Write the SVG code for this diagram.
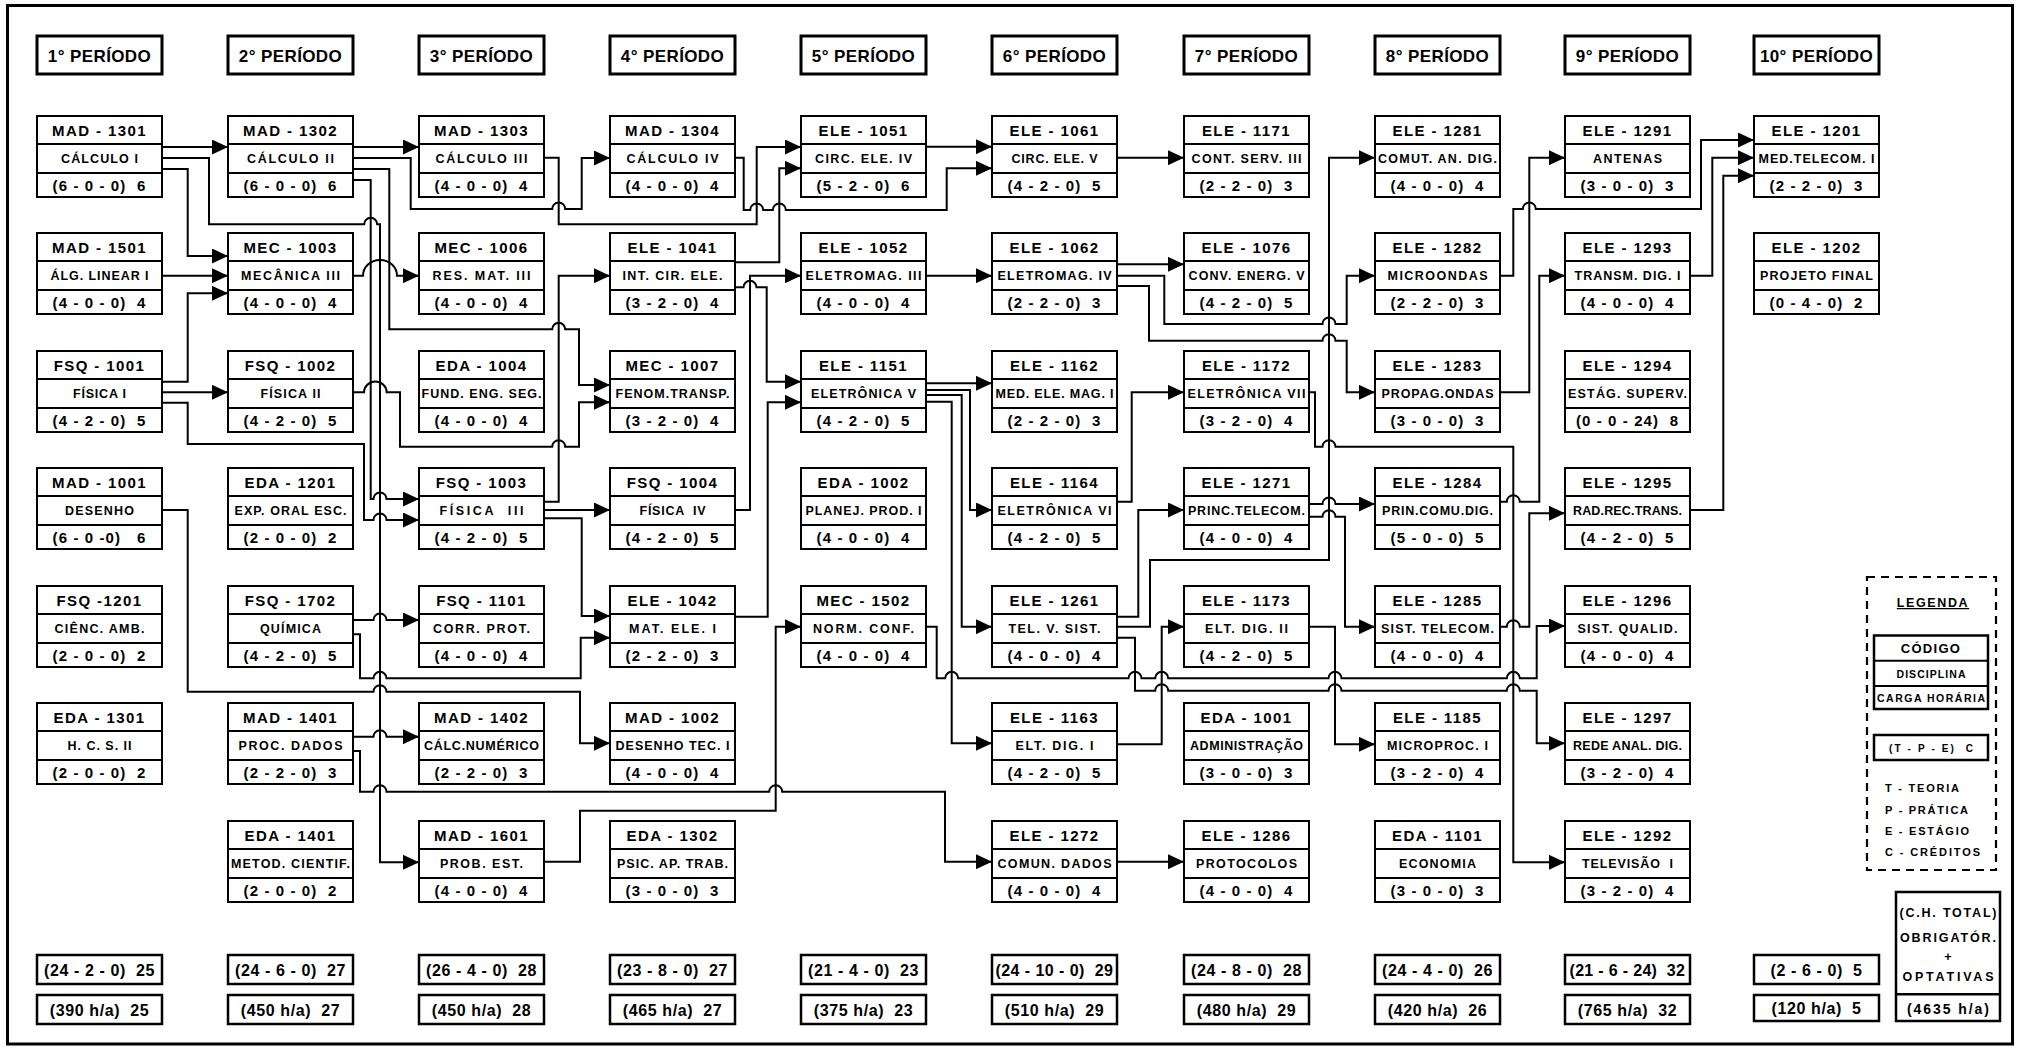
<svg xmlns="http://www.w3.org/2000/svg" xmlns:xlink="http://www.w3.org/1999/xlink" width="2022" height="1048" viewBox="0 0 2022 1048">
<style>
text{font-family:"Liberation Sans",Arial,sans-serif;font-weight:700;fill:#000;text-anchor:middle;white-space:pre}
.c{font-size:15px;letter-spacing:1.4px}
.d{font-size:12.5px}
.h{font-size:15px;letter-spacing:1.1px}
.p{font-size:17px;letter-spacing:0.4px}
.t{font-size:16px;letter-spacing:0.6px}
.hb{fill:#fff;stroke:#000;stroke-width:3}
.tb{fill:#fff;stroke:#000;stroke-width:2.5}
#conn path{fill:none;stroke:#000;stroke-width:2;marker-end:url(#ah)}
.lg{font-size:11px;text-anchor:start}
</style>
<defs>
<marker id="ah" markerUnits="userSpaceOnUse" markerWidth="16" markerHeight="15" refX="16" refY="7.5" orient="auto"><path d="M0,0 L16,7.5 L0,15 Z" fill="#000"/></marker>
<g id="nb"><rect x="0" y="0" width="125" height="81" fill="#fff" stroke="#000" stroke-width="2"/><line x1="0" y1="28" x2="125" y2="28" stroke="#000" stroke-width="2"/><line x1="0" y1="57" x2="125" y2="57" stroke="#000" stroke-width="2"/></g>
</defs>
<rect width="2022" height="1048" fill="#fff"/>
<rect x="7.5" y="5.5" width="2005" height="1038.5" fill="none" stroke="#000" stroke-width="3"/>

<g id="headers">
<g id="p1"><rect class="hb" x="37" y="36" width="125" height="38"/><text class="p" x="99.5" y="61.5">1° PERÍODO</text></g>
<g id="p2"><rect class="hb" x="228" y="36" width="125" height="38"/><text class="p" x="290.5" y="61.5">2° PERÍODO</text></g>
<g id="p3"><rect class="hb" x="419" y="36" width="125" height="38"/><text class="p" x="481.5" y="61.5">3° PERÍODO</text></g>
<g id="p4"><rect class="hb" x="610" y="36" width="125" height="38"/><text class="p" x="672.5" y="61.5">4° PERÍODO</text></g>
<g id="p5"><rect class="hb" x="801" y="36" width="125" height="38"/><text class="p" x="863.5" y="61.5">5° PERÍODO</text></g>
<g id="p6"><rect class="hb" x="992" y="36" width="125" height="38"/><text class="p" x="1054.5" y="61.5">6° PERÍODO</text></g>
<g id="p7"><rect class="hb" x="1184" y="36" width="125" height="38"/><text class="p" x="1246.5" y="61.5">7° PERÍODO</text></g>
<g id="p8"><rect class="hb" x="1375" y="36" width="125" height="38"/><text class="p" x="1437.5" y="61.5">8° PERÍODO</text></g>
<g id="p9"><rect class="hb" x="1565" y="36" width="125" height="38"/><text class="p" x="1627.5" y="61.5">9° PERÍODO</text></g>
<g id="p10"><rect class="hb" x="1754" y="36" width="125" height="38"/><text class="p" x="1816.5" y="61.5">10° PERÍODO</text></g>
</g>

<g id="conn">
<path d="M162,147 H228"/>
<path d="M162,158 H209 V224.3 H364.2 a6.5,6.5 0 0 1 13,0 H380 V862.3 H419"/>
<path d="M162,169 H187.7 V256 H228"/>
<path d="M162,275.7 H228"/>
<path d="M162,381.7 H187.7 V293.3 H228"/>
<path d="M162,392.3 H228"/>
<path d="M162,402.7 H187.7 V444 H364 V520 H373.5 a6.5,6.5 0 0 1 13,0 H419"/>
<path d="M353,147 H419"/>
<path d="M353,158 H410.7 V209 H552.2 a6.5,6.5 0 0 1 13,0 H581.7 V158 H610"/>
<path d="M353,169 H389.3 V329.3 H552.2 a6.5,6.5 0 0 1 13,0 H579 V385 H610"/>
<path d="M353,180 H370.7 V499 H373.5 a6.5,6.5 0 0 1 13,0 H419"/>
<path d="M353,275.7 H363 A17,15.7 0 0 1 397,275.7 H419"/>
<path d="M353,392.3 H364 A11.3,10.7 0 0 1 386.7,392.3 H400 V446.7 H552.2 a6.5,6.5 0 0 1 13,0 H579 V402.3 H610"/>
<path d="M162,510 H187.7 V691.7 H373.5 a6.5,6.5 0 0 1 13,0 H580 V743.3 H610"/>
<path d="M353,620 H373.5 a6.5,6.5 0 0 1 13,0 H419"/>
<path d="M353,634.3 H360 V678.3 H373.5 a6.5,6.5 0 0 1 13,0 H580.7 V637.7 H610"/>
<path d="M353,736.7 H373.5 a6.5,6.5 0 0 1 13,0 H419"/>
<path d="M353,751 H360 V791.7 H373.5 a6.5,6.5 0 0 1 13,0 H769.2 a6.5,6.5 0 0 1 13,0 H945 V861.7 H992"/>
<path d="M544,157.7 H558.7 V224.3 H756.7 V147 H801"/>
<path d="M735,157.7 H743.7 V210 H750.2 a6.5,6.5 0 0 1 13,0 H772.8 a6.5,6.5 0 0 1 13,0 H946.7 V168.3 H992"/>
<path d="M735,262.3 H779.3 V168.3 H801"/>
<path d="M735,287.3 H743.5 a6.5,6.5 0 0 1 13,0 H766.7 V381.7 H801"/>
<path d="M544,501.7 H558.7 V275.7 H610"/>
<path d="M544,510 H610"/>
<path d="M544,518.3 H581.7 V616 H610"/>
<path d="M735,510 H750 V275.7 H801"/>
<path d="M735,616.7 H767.7 V402.3 H801"/>
<path d="M544,861.7 H580 V810.7 H775.7 V626.7 H801"/>
<path d="M926,146.7 H992"/>
<path d="M926,275.7 H992"/>
<path d="M926,383.3 H992"/>
<path d="M926,390 H970 V510 H992"/>
<path d="M926,395 H961.7 V626.7 H992"/>
<path d="M926,401.7 H951.7 V743.3 H992"/>
<path d="M926,626.7 H936.7 V678.3 H945.2 a6.5,6.5 0 0 1 13,0 H1128.5 a6.5,6.5 0 0 1 13,0 H1155.2 a6.5,6.5 0 0 1 13,0 H1328.5 a6.5,6.5 0 0 1 13,0 H1506.8 a6.5,6.5 0 0 1 13,0 H1536.7 V626 H1565"/>
<path d="M1117,157.7 H1184"/>
<path d="M1117,264.3 H1184"/>
<path d="M1117,275.7 H1164.3 V324 H1322.5 a6.5,6.5 0 0 1 13,0 H1346.7 V275.7 H1375"/>
<path d="M1117,286 H1149 V340.7 H1322.5 a6.5,6.5 0 0 1 13,0 H1346.7 V392.3 H1375"/>
<path d="M1117,501.7 H1131.7 V392.3 H1184"/>
<path d="M1117,616.7 H1138.3 V510 H1184"/>
<path d="M1117,626.7 H1150 V560 H1329 V157.7 H1375"/>
<path d="M1117,637.7 H1135 V690.7 H1155.2 a6.5,6.5 0 0 1 13,0 H1328.5 a6.5,6.5 0 0 1 13,0 H1506.8 a6.5,6.5 0 0 1 13,0 H1536.7 V743.3 H1565"/>
<path d="M1117,744.3 H1161.7 V626.7 H1184"/>
<path d="M1309,392.3 H1315 V446.7 H1322.5 a6.5,6.5 0 0 1 13,0 H1513.3 V862.3 H1565"/>
<path d="M1309,504 H1322.5 a6.5,6.5 0 0 1 13,0 H1375"/>
<path d="M1309,516.7 H1322.5 a6.5,6.5 0 0 1 13,0 H1345 V626.7 H1375"/>
<path d="M1309,626.7 H1335 V744.3 H1375"/>
<path d="M1117,861.7 H1184"/>
<path d="M1500,275.7 H1513.3 V209 H1522.8 a6.5,6.5 0 0 1 13,0 H1701 V140 H1754"/>
<path d="M1500,392.3 H1529.3 V157.7 H1565"/>
<path d="M1500,501.7 H1506.8 a6.5,6.5 0 0 1 13,0 H1539.3 V275.7 H1565"/>
<path d="M1500,626.7 H1506.8 a6.5,6.5 0 0 1 13,0 H1529.3 V513.3 H1565"/>
<path d="M1690,510 H1723.3 V175.7 H1754"/>
<path d="M1690,275.7 H1712.3 V157.7 H1754"/>
</g>

<g id="nodes">
<g id="mad1301" transform="translate(37,116)"><use href="#nb"/><text class="c" x="62.5" y="19.5">MAD - 1301</text><text class="d" x="62.5" y="47" textLength="77">CÁLCULO I</text><text class="h" x="62.5" y="75">(6 - 0 - 0)  6</text></g>
<g id="mad1501" transform="translate(37,233)"><use href="#nb"/><text class="c" x="62.5" y="19.5">MAD - 1501</text><text class="d" x="62.5" y="47" textLength="98">ÁLG. LINEAR I</text><text class="h" x="62.5" y="75">(4 - 0 - 0)  4</text></g>
<g id="fsq1001" transform="translate(37,351)"><use href="#nb"/><text class="c" x="62.5" y="19.5">FSQ - 1001</text><text class="d" x="62.5" y="47" textLength="53">FÍSICA I</text><text class="h" x="62.5" y="75">(4 - 2 - 0)  5</text></g>
<g id="mad1001" transform="translate(37,468)"><use href="#nb"/><text class="c" x="62.5" y="19.5">MAD - 1001</text><text class="d" x="62.5" y="47" textLength="69">DESENHO</text><text class="h" x="62.5" y="75">(6 - 0 -0)   6</text></g>
<g id="fsq1201" transform="translate(37,586)"><use href="#nb"/><text class="c" x="62.5" y="19.5">FSQ -1201</text><text class="d" x="62.5" y="47" textLength="90">CIÊNC. AMB.</text><text class="h" x="62.5" y="75">(2 - 0 - 0)  2</text></g>
<g id="eda1301" transform="translate(37,703)"><use href="#nb"/><text class="c" x="62.5" y="19.5">EDA - 1301</text><text class="d" x="62.5" y="47" textLength="64">H. C. S. II</text><text class="h" x="62.5" y="75">(2 - 0 - 0)  2</text></g>

<g id="mad1302" transform="translate(228,116)"><use href="#nb"/><text class="c" x="62.5" y="19.5">MAD - 1302</text><text class="d" x="62.5" y="47" textLength="87">CÁLCULO II</text><text class="h" x="62.5" y="75">(6 - 0 - 0)  6</text></g>
<g id="mec1003" transform="translate(228,233)"><use href="#nb"/><text class="c" x="62.5" y="19.5">MEC - 1003</text><text class="d" x="62.5" y="47" textLength="99">MECÂNICA III</text><text class="h" x="62.5" y="75">(4 - 0 - 0)  4</text></g>
<g id="fsq1002" transform="translate(228,351)"><use href="#nb"/><text class="c" x="62.5" y="19.5">FSQ - 1002</text><text class="d" x="62.5" y="47" textLength="60">FÍSICA II</text><text class="h" x="62.5" y="75">(4 - 2 - 0)  5</text></g>
<g id="eda1201" transform="translate(228,468)"><use href="#nb"/><text class="c" x="62.5" y="19.5">EDA - 1201</text><text class="d" x="62.5" y="47" textLength="112">EXP. ORAL ESC.</text><text class="h" x="62.5" y="75">(2 - 0 - 0)  2</text></g>
<g id="fsq1702" transform="translate(228,586)"><use href="#nb"/><text class="c" x="62.5" y="19.5">FSQ - 1702</text><text class="d" x="62.5" y="47" textLength="61">QUÍMICA</text><text class="h" x="62.5" y="75">(4 - 2 - 0)  5</text></g>
<g id="mad1401" transform="translate(228,703)"><use href="#nb"/><text class="c" x="62.5" y="19.5">MAD - 1401</text><text class="d" x="62.5" y="47" textLength="104">PROC. DADOS</text><text class="h" x="62.5" y="75">(2 - 2 - 0)  3</text></g>
<g id="eda1401" transform="translate(228,821)"><use href="#nb"/><text class="c" x="62.5" y="19.5">EDA - 1401</text><text class="d" x="62.5" y="47" textLength="119">METOD. CIENTIF.</text><text class="h" x="62.5" y="75">(2 - 0 - 0)  2</text></g>

<g id="mad1303" transform="translate(419,116)"><use href="#nb"/><text class="c" x="62.5" y="19.5">MAD - 1303</text><text class="d" x="62.5" y="47" textLength="92">CÁLCULO III</text><text class="h" x="62.5" y="75">(4 - 0 - 0)  4</text></g>
<g id="mec1006" transform="translate(419,233)"><use href="#nb"/><text class="c" x="62.5" y="19.5">MEC - 1006</text><text class="d" x="62.5" y="47" textLength="98">RES. MAT. III</text><text class="h" x="62.5" y="75">(4 - 0 - 0)  4</text></g>
<g id="eda1004" transform="translate(419,351)"><use href="#nb"/><text class="c" x="62.5" y="19.5">EDA - 1004</text><text class="d" x="62.5" y="47" textLength="120">FUND. ENG. SEG.</text><text class="h" x="62.5" y="75">(4 - 0 - 0)  4</text></g>
<g id="fsq1003" transform="translate(419,468)"><use href="#nb"/><text class="c" x="62.5" y="19.5">FSQ - 1003</text><text class="d" x="62.5" y="47" textLength="84">FÍSICA  III</text><text class="h" x="62.5" y="75">(4 - 2 - 0)  5</text></g>
<g id="fsq1101" transform="translate(419,586)"><use href="#nb"/><text class="c" x="62.5" y="19.5">FSQ - 1101</text><text class="d" x="62.5" y="47" textLength="97">CORR. PROT.</text><text class="h" x="62.5" y="75">(4 - 0 - 0)  4</text></g>
<g id="mad1402" transform="translate(419,703)"><use href="#nb"/><text class="c" x="62.5" y="19.5">MAD - 1402</text><text class="d" x="62.5" y="47" textLength="115">CÁLC.NUMÉRICO</text><text class="h" x="62.5" y="75">(2 - 2 - 0)  3</text></g>
<g id="mad1601" transform="translate(419,821)"><use href="#nb"/><text class="c" x="62.5" y="19.5">MAD - 1601</text><text class="d" x="62.5" y="47" textLength="83">PROB. EST.</text><text class="h" x="62.5" y="75">(4 - 0 - 0)  4</text></g>

<g id="mad1304" transform="translate(610,116)"><use href="#nb"/><text class="c" x="62.5" y="19.5">MAD - 1304</text><text class="d" x="62.5" y="47" textLength="92">CÁLCULO IV</text><text class="h" x="62.5" y="75">(4 - 0 - 0)  4</text></g>
<g id="ele1041" transform="translate(610,233)"><use href="#nb"/><text class="c" x="62.5" y="19.5">ELE - 1041</text><text class="d" x="62.5" y="47" textLength="100">INT. CIR. ELE.</text><text class="h" x="62.5" y="75">(3 - 2 - 0)  4</text></g>
<g id="mec1007" transform="translate(610,351)"><use href="#nb"/><text class="c" x="62.5" y="19.5">MEC - 1007</text><text class="d" x="62.5" y="47" textLength="114">FENOM.TRANSP.</text><text class="h" x="62.5" y="75">(3 - 2 - 0)  4</text></g>
<g id="fsq1004" transform="translate(610,468)"><use href="#nb"/><text class="c" x="62.5" y="19.5">FSQ - 1004</text><text class="d" x="62.5" y="47" textLength="66">FÍSICA  IV</text><text class="h" x="62.5" y="75">(4 - 2 - 0)  5</text></g>
<g id="ele1042" transform="translate(610,586)"><use href="#nb"/><text class="c" x="62.5" y="19.5">ELE - 1042</text><text class="d" x="62.5" y="47" textLength="87">MAT. ELE. I</text><text class="h" x="62.5" y="75">(2 - 2 - 0)  3</text></g>
<g id="mad1002" transform="translate(610,703)"><use href="#nb"/><text class="c" x="62.5" y="19.5">MAD - 1002</text><text class="d" x="62.5" y="47" textLength="114">DESENHO TEC. I</text><text class="h" x="62.5" y="75">(4 - 0 - 0)  4</text></g>
<g id="eda1302" transform="translate(610,821)"><use href="#nb"/><text class="c" x="62.5" y="19.5">EDA - 1302</text><text class="d" x="62.5" y="47" textLength="111">PSIC. AP. TRAB.</text><text class="h" x="62.5" y="75">(3 - 0 - 0)  3</text></g>

<g id="ele1051" transform="translate(801,116)"><use href="#nb"/><text class="c" x="62.5" y="19.5">ELE - 1051</text><text class="d" x="62.5" y="47" textLength="97">CIRC. ELE. IV</text><text class="h" x="62.5" y="75">(5 - 2 - 0)  6</text></g>
<g id="ele1052" transform="translate(801,233)"><use href="#nb"/><text class="c" x="62.5" y="19.5">ELE - 1052</text><text class="d" x="62.5" y="47" textLength="116">ELETROMAG. III</text><text class="h" x="62.5" y="75">(4 - 0 - 0)  4</text></g>
<g id="ele1151" transform="translate(801,351)"><use href="#nb"/><text class="c" x="62.5" y="19.5">ELE - 1151</text><text class="d" x="62.5" y="47" textLength="105">ELETRÔNICA V</text><text class="h" x="62.5" y="75">(4 - 2 - 0)  5</text></g>
<g id="eda1002" transform="translate(801,468)"><use href="#nb"/><text class="c" x="62.5" y="19.5">EDA - 1002</text><text class="d" x="62.5" y="47" textLength="116">PLANEJ. PROD. I</text><text class="h" x="62.5" y="75">(4 - 0 - 0)  4</text></g>
<g id="mec1502" transform="translate(801,586)"><use href="#nb"/><text class="c" x="62.5" y="19.5">MEC - 1502</text><text class="d" x="62.5" y="47" textLength="101">NORM. CONF.</text><text class="h" x="62.5" y="75">(4 - 0 - 0)  4</text></g>

<g id="ele1061" transform="translate(992,116)"><use href="#nb"/><text class="c" x="62.5" y="19.5">ELE - 1061</text><text class="d" x="62.5" y="47" textLength="86">CIRC. ELE. V</text><text class="h" x="62.5" y="75">(4 - 2 - 0)  5</text></g>
<g id="ele1062" transform="translate(992,233)"><use href="#nb"/><text class="c" x="62.5" y="19.5">ELE - 1062</text><text class="d" x="62.5" y="47" textLength="114">ELETROMAG. IV</text><text class="h" x="62.5" y="75">(2 - 2 - 0)  3</text></g>
<g id="ele1162" transform="translate(992,351)"><use href="#nb"/><text class="c" x="62.5" y="19.5">ELE - 1162</text><text class="d" x="62.5" y="47" textLength="118">MED. ELE. MAG. I</text><text class="h" x="62.5" y="75">(2 - 2 - 0)  3</text></g>
<g id="ele1164" transform="translate(992,468)"><use href="#nb"/><text class="c" x="62.5" y="19.5">ELE - 1164</text><text class="d" x="62.5" y="47" textLength="114">ELETRÔNICA VI</text><text class="h" x="62.5" y="75">(4 - 2 - 0)  5</text></g>
<g id="ele1261" transform="translate(992,586)"><use href="#nb"/><text class="c" x="62.5" y="19.5">ELE - 1261</text><text class="d" x="62.5" y="47" textLength="92">TEL. V. SIST.</text><text class="h" x="62.5" y="75">(4 - 0 - 0)  4</text></g>
<g id="ele1163" transform="translate(992,703)"><use href="#nb"/><text class="c" x="62.5" y="19.5">ELE - 1163</text><text class="d" x="62.5" y="47" textLength="78">ELT. DIG. I</text><text class="h" x="62.5" y="75">(4 - 2 - 0)  5</text></g>
<g id="ele1272" transform="translate(992,821)"><use href="#nb"/><text class="c" x="62.5" y="19.5">ELE - 1272</text><text class="d" x="62.5" y="47" textLength="114">COMUN. DADOS</text><text class="h" x="62.5" y="75">(4 - 0 - 0)  4</text></g>

<g id="ele1171" transform="translate(1184,116)"><use href="#nb"/><text class="c" x="62.5" y="19.5">ELE - 1171</text><text class="d" x="62.5" y="47" textLength="110">CONT. SERV. III</text><text class="h" x="62.5" y="75">(2 - 2 - 0)  3</text></g>
<g id="ele1076" transform="translate(1184,233)"><use href="#nb"/><text class="c" x="62.5" y="19.5">ELE - 1076</text><text class="d" x="62.5" y="47" textLength="116">CONV. ENERG. V</text><text class="h" x="62.5" y="75">(4 - 2 - 0)  5</text></g>
<g id="ele1172" transform="translate(1184,351)"><use href="#nb"/><text class="c" x="62.5" y="19.5">ELE - 1172</text><text class="d" x="62.5" y="47" textLength="118">ELETRÔNICA VII</text><text class="h" x="62.5" y="75">(3 - 2 - 0)  4</text></g>
<g id="ele1271" transform="translate(1184,468)"><use href="#nb"/><text class="c" x="62.5" y="19.5">ELE - 1271</text><text class="d" x="62.5" y="47" textLength="117">PRINC.TELECOM.</text><text class="h" x="62.5" y="75">(4 - 0 - 0)  4</text></g>
<g id="ele1173" transform="translate(1184,586)"><use href="#nb"/><text class="c" x="62.5" y="19.5">ELE - 1173</text><text class="d" x="62.5" y="47" textLength="83">ELT. DIG. II</text><text class="h" x="62.5" y="75">(4 - 2 - 0)  5</text></g>
<g id="eda1001" transform="translate(1184,703)"><use href="#nb"/><text class="c" x="62.5" y="19.5">EDA - 1001</text><text class="d" x="62.5" y="47" textLength="113">ADMINISTRAÇÃO</text><text class="h" x="62.5" y="75">(3 - 0 - 0)  3</text></g>
<g id="ele1286" transform="translate(1184,821)"><use href="#nb"/><text class="c" x="62.5" y="19.5">ELE - 1286</text><text class="d" x="62.5" y="47" textLength="101">PROTOCOLOS</text><text class="h" x="62.5" y="75">(4 - 0 - 0)  4</text></g>

<g id="ele1281" transform="translate(1375,116)"><use href="#nb"/><text class="c" x="62.5" y="19.5">ELE - 1281</text><text class="d" x="62.5" y="47" textLength="119">COMUT. AN. DIG.</text><text class="h" x="62.5" y="75">(4 - 0 - 0)  4</text></g>
<g id="ele1282" transform="translate(1375,233)"><use href="#nb"/><text class="c" x="62.5" y="19.5">ELE - 1282</text><text class="d" x="62.5" y="47" textLength="100">MICROONDAS</text><text class="h" x="62.5" y="75">(2 - 2 - 0)  3</text></g>
<g id="ele1283" transform="translate(1375,351)"><use href="#nb"/><text class="c" x="62.5" y="19.5">ELE - 1283</text><text class="d" x="62.5" y="47" textLength="112">PROPAG.ONDAS</text><text class="h" x="62.5" y="75">(3 - 0 - 0)  3</text></g>
<g id="ele1284" transform="translate(1375,468)"><use href="#nb"/><text class="c" x="62.5" y="19.5">ELE - 1284</text><text class="d" x="62.5" y="47" textLength="111">PRIN.COMU.DIG.</text><text class="h" x="62.5" y="75">(5 - 0 - 0)  5</text></g>
<g id="ele1285" transform="translate(1375,586)"><use href="#nb"/><text class="c" x="62.5" y="19.5">ELE - 1285</text><text class="d" x="62.5" y="47" textLength="113">SIST. TELECOM.</text><text class="h" x="62.5" y="75">(4 - 0 - 0)  4</text></g>
<g id="ele1185" transform="translate(1375,703)"><use href="#nb"/><text class="c" x="62.5" y="19.5">ELE - 1185</text><text class="d" x="62.5" y="47" textLength="101">MICROPROC. I</text><text class="h" x="62.5" y="75">(3 - 2 - 0)  4</text></g>
<g id="eda1101" transform="translate(1375,821)"><use href="#nb"/><text class="c" x="62.5" y="19.5">EDA - 1101</text><text class="d" x="62.5" y="47" textLength="77">ECONOMIA</text><text class="h" x="62.5" y="75">(3 - 0 - 0)  3</text></g>

<g id="ele1291" transform="translate(1565,116)"><use href="#nb"/><text class="c" x="62.5" y="19.5">ELE - 1291</text><text class="d" x="62.5" y="47" textLength="69">ANTENAS</text><text class="h" x="62.5" y="75">(3 - 0 - 0)  3</text></g>
<g id="ele1293" transform="translate(1565,233)"><use href="#nb"/><text class="c" x="62.5" y="19.5">ELE - 1293</text><text class="d" x="62.5" y="47" textLength="106">TRANSM. DIG. I</text><text class="h" x="62.5" y="75">(4 - 0 - 0)  4</text></g>
<g id="ele1294" transform="translate(1565,351)"><use href="#nb"/><text class="c" x="62.5" y="19.5">ELE - 1294</text><text class="d" x="62.5" y="47" textLength="119">ESTÁG. SUPERV.</text><text class="h" x="62.5" y="75">(0 - 0 - 24)  8</text></g>
<g id="ele1295" transform="translate(1565,468)"><use href="#nb"/><text class="c" x="62.5" y="19.5">ELE - 1295</text><text class="d" x="62.5" y="47" textLength="109">RAD.REC.TRANS.</text><text class="h" x="62.5" y="75">(4 - 2 - 0)  5</text></g>
<g id="ele1296" transform="translate(1565,586)"><use href="#nb"/><text class="c" x="62.5" y="19.5">ELE - 1296</text><text class="d" x="62.5" y="47" textLength="100">SIST. QUALID.</text><text class="h" x="62.5" y="75">(4 - 0 - 0)  4</text></g>
<g id="ele1297" transform="translate(1565,703)"><use href="#nb"/><text class="c" x="62.5" y="19.5">ELE - 1297</text><text class="d" x="62.5" y="47" textLength="109">REDE ANAL. DIG.</text><text class="h" x="62.5" y="75">(3 - 2 - 0)  4</text></g>
<g id="ele1292" transform="translate(1565,821)"><use href="#nb"/><text class="c" x="62.5" y="19.5">ELE - 1292</text><text class="d" x="62.5" y="47" textLength="91">TELEVISÃO  I</text><text class="h" x="62.5" y="75">(3 - 2 - 0)  4</text></g>

<g id="ele1201" transform="translate(1754,116)"><use href="#nb"/><text class="c" x="62.5" y="19.5">ELE - 1201</text><text class="d" x="62.5" y="47" textLength="116">MED.TELECOM. I</text><text class="h" x="62.5" y="75">(2 - 2 - 0)  3</text></g>
<g id="ele1202" transform="translate(1754,233)"><use href="#nb"/><text class="c" x="62.5" y="19.5">ELE - 1202</text><text class="d" x="62.5" y="47" textLength="113">PROJETO FINAL</text><text class="h" x="62.5" y="75">(0 - 4 - 0)  2</text></g>
</g>

<g id="totals">
<g id="tot1"><rect class="tb" x="37" y="955" width="125" height="29"/><text class="t" x="99.5" y="975.5">(24 - 2 - 0)  25</text><rect class="tb" x="37" y="995" width="125" height="29"/><text class="t" x="99.5" y="1016">(390 h/a)  25</text></g>
<g id="tot2"><rect class="tb" x="228" y="955" width="125" height="29"/><text class="t" x="290.5" y="975.5">(24 - 6 - 0)  27</text><rect class="tb" x="228" y="995" width="125" height="29"/><text class="t" x="290.5" y="1016">(450 h/a)  27</text></g>
<g id="tot3"><rect class="tb" x="419" y="955" width="125" height="29"/><text class="t" x="481.5" y="975.5">(26 - 4 - 0)  28</text><rect class="tb" x="419" y="995" width="125" height="29"/><text class="t" x="481.5" y="1016">(450 h/a)  28</text></g>
<g id="tot4"><rect class="tb" x="610" y="955" width="125" height="29"/><text class="t" x="672.5" y="975.5">(23 - 8 - 0)  27</text><rect class="tb" x="610" y="995" width="125" height="29"/><text class="t" x="672.5" y="1016">(465 h/a)  27</text></g>
<g id="tot5"><rect class="tb" x="801" y="955" width="125" height="29"/><text class="t" x="863.5" y="975.5">(21 - 4 - 0)  23</text><rect class="tb" x="801" y="995" width="125" height="29"/><text class="t" x="863.5" y="1016">(375 h/a)  23</text></g>
<g id="tot6"><rect class="tb" x="992" y="955" width="125" height="29"/><text class="t" x="1054.5" y="975.5" textLength="118">(24 - 10 - 0)  29</text><rect class="tb" x="992" y="995" width="125" height="29"/><text class="t" x="1054.5" y="1016">(510 h/a)  29</text></g>
<g id="tot7"><rect class="tb" x="1184" y="955" width="125" height="29"/><text class="t" x="1246.5" y="975.5">(24 - 8 - 0)  28</text><rect class="tb" x="1184" y="995" width="125" height="29"/><text class="t" x="1246.5" y="1016">(480 h/a)  29</text></g>
<g id="tot8"><rect class="tb" x="1375" y="955" width="125" height="29"/><text class="t" x="1437.5" y="975.5">(24 - 4 - 0)  26</text><rect class="tb" x="1375" y="995" width="125" height="29"/><text class="t" x="1437.5" y="1016">(420 h/a)  26</text></g>
<g id="tot9"><rect class="tb" x="1565" y="955" width="125" height="29"/><text class="t" x="1627.5" y="975.5" textLength="116">(21 - 6 - 24)  32</text><rect class="tb" x="1565" y="995" width="125" height="29"/><text class="t" x="1627.5" y="1016">(765 h/a)  32</text></g>
<g id="tot10"><rect class="tb" x="1754" y="955" width="125" height="29"/><text class="t" x="1816.5" y="975.5">(2 - 6 - 0)  5</text><rect class="tb" x="1754" y="995" width="125" height="26"/><text class="t" x="1816.5" y="1014">(120 h/a)  5</text></g>
</g>

<g id="legenda">
<rect x="1867" y="577" width="129" height="293" fill="none" stroke="#000" stroke-width="2.2" stroke-dasharray="8 6"/>
<text x="1933" y="607" font-size="12.5" letter-spacing="1.6" text-decoration="underline">LEGENDA</text>
<rect x="1874" y="635.5" width="114" height="73.5" fill="#fff" stroke="#000" stroke-width="2.5"/>
<line x1="1874" y1="660.7" x2="1988" y2="660.7" stroke="#000" stroke-width="2"/>
<line x1="1874" y1="686" x2="1988" y2="686" stroke="#000" stroke-width="2"/>
<text x="1931" y="652.5" font-size="13" letter-spacing="1.3">CÓDIGO</text>
<text x="1931" y="677.5" font-size="10.5" textLength="69">DISCIPLINA</text>
<text x="1931" y="702" font-size="10.5" textLength="108">CARGA HORÁRIA</text>
<rect x="1874" y="735" width="114" height="25" fill="#fff" stroke="#000" stroke-width="2.5"/>
<text x="1931" y="752" font-size="10" textLength="84">(T - P - E)  C</text>
<text class="lg" x="1885" y="792" textLength="74">T - TEORIA</text>
<text class="lg" x="1885" y="813.5" textLength="83">P - PRÁTICA</text>
<text class="lg" x="1885" y="835" textLength="84">E - ESTÁGIO</text>
<text class="lg" x="1885" y="856" textLength="95">C - CRÉDITOS</text>
</g>

<g id="chtotal">
<rect x="1896" y="892" width="104" height="129" fill="#fff" stroke="#000" stroke-width="2.5"/>
<line x1="1896" y1="994.3" x2="2000" y2="994.3" stroke="#000" stroke-width="2.5"/>
<text x="1948" y="917" font-size="12.5" textLength="97">(C.H. TOTAL)</text>
<text x="1948" y="942" font-size="12.5" textLength="96">OBRIGATÓR.</text>
<text x="1948" y="961" font-size="12.5">+</text>
<text x="1948" y="981" font-size="12.5" textLength="91">OPTATIVAS</text>
<text x="1948" y="1014" font-size="14" textLength="82">(4635 h/a)</text>
</g>
</svg>
